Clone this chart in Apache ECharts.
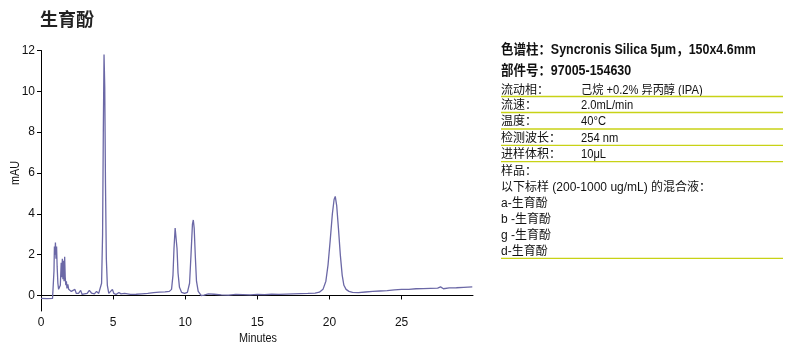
<!DOCTYPE html>
<html>
<head>
<meta charset="utf-8">
<script src="https://cdn.jsdelivr.net/npm/echarts@6/dist/echarts.min.js"></script>
<style>html,body{margin:0;padding:0;background:#fff;}#c{width:795px;height:351px;}</style>
</head>
<body>
<div id="c"></div>
<script>
// Retention time (min)
var times = [0,0.4,0.8,0.85,0.9,0.93,0.97,1.0,1.04,1.08,1.12,1.17,1.22,1.28,1.34,1.4,1.44,1.48,1.52,1.56,1.6,1.64,1.68,1.72,1.76,1.8,1.86,1.92,2.0,2.1,2.2,2.35,2.45,2.6,2.75,2.85,3.0,3.2,3.35,3.5,3.7,3.85,4.0,4.1,4.2,4.27,4.32,4.37,4.42,4.47,4.53,4.6,4.7,4.8,4.95,5.05,5.2,5.4,5.55,5.8,6.2,6.6,7.0,7.4,7.8,8.2,8.6,8.9,9.05,9.15,9.22,9.3,9.36,9.43,9.5,9.6,9.75,9.95,10.15,10.3,10.4,10.5,10.56,10.62,10.7,10.78,10.9,11.1,11.3,11.6,12,12.5,13,13.5,14,14.5,15,15.5,16,16.5,17,17.5,18,18.5,19,19.3,19.55,19.75,19.9,20.05,20.2,20.32,20.4,20.5,20.62,20.75,20.88,21.0,21.15,21.35,21.6,22,22.5,23,23.5,24,24.5,25,25.5,26,26.5,27,27.5,27.7,27.9,28.3,28.8,29.3,29.9];
// Detector response (mAU)
var mAU = [-0.14,-0.15,-0.14,-0.12,1.2,2.4,2.0,2.6,1.8,2.4,1.4,0.6,0.3,0.25,0.5,1.6,0.9,1.8,0.8,1.7,0.7,1.9,0.9,0.5,0.7,0.35,0.55,0.3,0.3,0.2,0.15,0.3,0.1,0.1,0.25,0.05,0.08,0.1,0.25,0.12,0.08,0.2,0.1,0.15,0.6,3.0,8.0,11.8,10.2,5.5,1.8,0.5,0.1,0.05,0.3,0.1,0.05,0.15,0.08,0.1,0.05,0.06,0.08,0.1,0.14,0.16,0.18,0.2,0.3,1.0,2.3,3.3,3.3,2.3,1.1,0.4,0.15,0.1,0.15,0.6,2.0,3.5,3.7,3.3,1.9,0.7,0.2,0.0,0.02,0.08,0.06,0.03,0.02,0.05,0.04,0.03,0.05,0.04,0.06,0.05,0.07,0.08,0.09,0.1,0.12,0.16,0.3,0.7,1.5,2.7,4.0,4.7,4.85,4.4,3.3,2.0,1.0,0.5,0.3,0.2,0.15,0.14,0.17,0.2,0.22,0.24,0.27,0.3,0.3,0.33,0.34,0.35,0.36,0.42,0.33,0.37,0.38,0.4,0.42];
var yTicks = [0,2,4,6,8,10,12];
var xTicks = [0,5,10,15,20,25];

var title = '生育酚';
var headLines = ['色谱柱：Syncronis Silica 5μm，150x4.6mm', '部件号：97005-154630'];
var condLabels = ['流动相：', '流速：', '温度：', '检测波长：', '进样体积：'];
var condValues = ['己烷 +0.2% 异丙醇 (IPA)', '2.0mL/min', '40°C', '254 nm', '10μL'];
var sampleLines = ['样品：', '以下标样 (200-1000 ug/mL) 的混合液：', 'a-生育酚', 'b -生育酚', 'g -生育酚', 'd-生育酚'];

var FONT = "'Liberation Sans','Noto Sans CJK SC',sans-serif";
var data = times.map(function(t, i){ return [t, mAU[i]]; });

var g = [];
g.push({type:'text', left:40, top:10, style:{text:title, font:"bold 18px 'Noto Sans CJK SC',sans-serif", fill:'#222'}});
g.push({type:'text', x:16, y:173, rotation:Math.PI/2, scaleX:0.9, style:{text:'mAU', font:'12px '+FONT, fill:'#111', align:'center', verticalAlign:'middle'}});
g.push({type:'text', x:258, y:339, scaleX:0.9, style:{text:'Minutes', font:'12px '+FONT, fill:'#111', align:'center', verticalAlign:'middle'}});
headLines.forEach(function(s, i){
  g.push({type:'text', x:501, y:50.5 + i*20.5, scaleX:0.89, style:{text:s, font:'bold 14px '+FONT, fill:'#111', verticalAlign:'middle'}});
});
var rowY = [90.5, 106, 122, 138.5, 155];
var lineY = [96.5, 112.5, 129, 145.3, 161.7];
condLabels.forEach(function(s, i){
  g.push({type:'text', x:501, y:rowY[i], style:{text:s, font:'12px '+FONT, fill:'#111', verticalAlign:'middle'}});
  g.push({type:'text', x:581, y:rowY[i], scaleX:0.93, style:{text:condValues[i], font:'12px '+FONT, fill:'#111', verticalAlign:'middle'}});
  g.push({type:'line', shape:{x1:501, y1:lineY[i], x2:783, y2:lineY[i]}, style:{stroke:'#c8d216', lineWidth:1.3}});
});
var sY = [171.7, 187.3, 203.3, 219.3, 236, 251.7];
sampleLines.forEach(function(s, i){
  g.push({type:'text', x:501, y:sY[i], style:{text:s, font:'12px '+FONT, fill:'#111', verticalAlign:'middle'}});
});
g.push({type:'line', shape:{x1:501, y1:258.3, x2:783, y2:258.3}, style:{stroke:'#c8d216', lineWidth:1.3}});

var chart = echarts.init(document.getElementById('c'), null, {renderer:'canvas'});
chart.setOption({
  animation:false,
  backgroundColor:'#fff',
  grid:{left:41, right:322, top:50.5, bottom:40},
  xAxis:{type:'value', min:0, max:29.95,
    axisLine:{lineStyle:{color:'#000', width:1}},
    axisTick:{length:4, lineStyle:{color:'#000'}, customValues:xTicks},
    axisLabel:{color:'#111', fontSize:12, fontFamily:FONT, margin:6, customValues:xTicks},
    splitLine:{show:false}},
  yAxis:{type:'value', min:-0.76, max:12,
    axisLine:{show:true, lineStyle:{color:'#000', width:1}},
    axisTick:{show:true, length:4, lineStyle:{color:'#000'}, customValues:yTicks},
    axisLabel:{color:'#111', fontSize:12, fontFamily:FONT, margin:6, customValues:yTicks},
    splitLine:{show:false}},
  series:[{type:'line', data:data, showSymbol:false, smooth:false,
    lineStyle:{color:'#6b68a6', width:1.3}}],
  graphic:g
});
</script>
</body>
</html>
